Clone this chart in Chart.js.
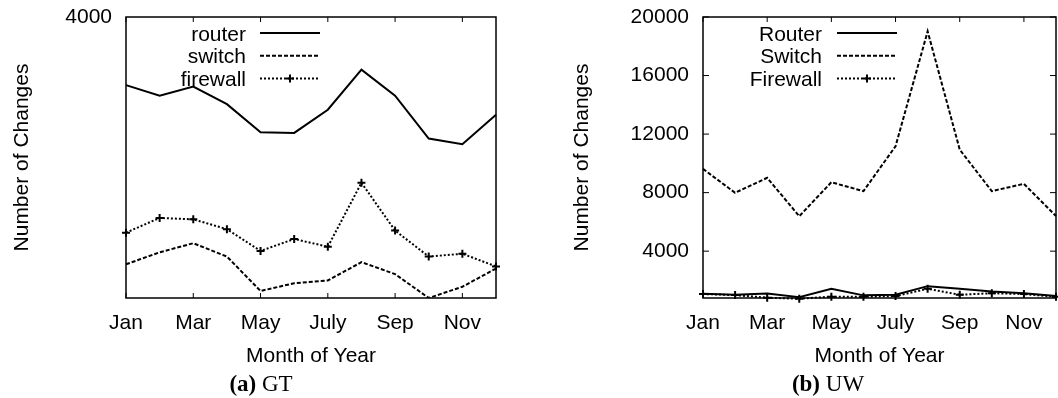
<!DOCTYPE html>
<html>
<head>
<meta charset="utf-8">
<script src="https://cdn.jsdelivr.net/npm/chart.js@4.4.0/dist/chart.umd.min.js"></script>
<style>
  html, body { margin: 0; padding: 0; background: #fff; }
  #wrap { position: relative; width: 1058px; height: 398px; overflow: hidden; }
  canvas { position: absolute; top: 0; }
  #gt { left: 0; }
  #uw { left: 529px; }
  .cap { position: absolute; width: 200px; text-align: center; font: 23px "Liberation Serif", "Times New Roman", serif; line-height: 22px; top: 373px; color: #000; }
  .cap b { font-weight: bold; }
</style>
</head>
<body>
<div id="wrap">
  <canvas id="gt" width="529" height="398"></canvas>
  <canvas id="uw" width="540" height="398"></canvas>
  <div class="cap" style="left:161px"><b>(a)</b> GT</div>
  <div class="cap" style="left:728px"><b>(b)</b> UW</div>
</div>
<script>
// --- data ---
const months = ["Jan", "Feb", "Mar", "Apr", "May", "June", "July", "Aug", "Sep", "Oct", "Nov", "Dec"];

const gtRouter   = [3030, 2880, 3010, 2760, 2360, 2350, 2680, 3250, 2880, 2270, 2190, 2610];
const gtSwitch   = [480, 650, 780, 590, 100, 210, 250, 510, 340, 0, 160, 420];
const gtFirewall = [930, 1140, 1120, 980, 670, 840, 730, 1640, 960, 590, 630, 450];
const gtTicks = [4000];

const uwRouter   = [1090, 1020, 1110, 860, 1430, 980, 1020, 1610, 1430, 1250, 1130, 930];
const uwSwitch   = [9620, 7990, 9010, 6390, 8710, 8100, 11170, 19020, 10940, 8100, 8600, 6400];
const uwFirewall = [1070, 1000, 820, 750, 890, 890, 930, 1430, 1020, 1130, 1070, 890];
const uwTicks = [4000, 8000, 12000, 16000, 20000];

const FONT = '"Liberation Sans", Arial, sans-serif';

// box around plot area + inward tick marks, gnuplot style
const framePlugin = {
  id: 'frame',
  afterDraw(chart, args, opts) {
    const { ctx, chartArea: a, scales: { x, y } } = chart;
    ctx.save();
    ctx.strokeStyle = '#000';
    ctx.lineWidth = 1;
    x.ticks.forEach((t, i) => {
      if (i % 2) return;
      const px = x.getPixelForTick(i);
      ctx.beginPath();
      ctx.moveTo(px, a.bottom); ctx.lineTo(px, a.bottom - 5);
      ctx.moveTo(px, a.top); ctx.lineTo(px, a.top + 5);
      ctx.stroke();
    });
    if (opts.yTicks) {
      y.ticks.forEach((t, i) => {
        const py = y.getPixelForTick(i);
        ctx.beginPath();
        ctx.moveTo(a.left, py); ctx.lineTo(a.left + 6, py);
        ctx.moveTo(a.right, py); ctx.lineTo(a.right - 6, py);
        ctx.stroke();
      });
    }
    ctx.lineWidth = 1.5;
    ctx.strokeRect(a.left, a.top, a.right - a.left, a.bottom - a.top);
    ctx.restore();
  }
};

// key drawn inside the plot: right-aligned names, line sample to the right
const keyPlugin = {
  id: 'key',
  afterDraw(chart, args, opts) {
    const ctx = chart.ctx;
    ctx.save();
    ctx.font = `21px ${FONT}`;
    ctx.fillStyle = '#000';
    ctx.textAlign = 'right';
    ctx.textBaseline = 'alphabetic';
    chart.data.datasets.forEach((ds, i) => {
      const ly = opts.top + i * 22.8;
      ctx.fillText(ds.label, opts.textRight, ly + 7.5);
      ctx.strokeStyle = '#000';
      ctx.lineWidth = ds.borderWidth;
      ctx.setLineDash(ds.borderDash || []);
      ctx.beginPath();
      ctx.moveTo(opts.sampleLeft, ly);
      ctx.lineTo(opts.sampleLeft + 60, ly);
      ctx.stroke();
      if (ds.pointRadius) {
        const cx = opts.sampleLeft + 30;
        ctx.setLineDash([]);
        ctx.lineWidth = ds.pointBorderWidth;
        ctx.beginPath();
        ctx.moveTo(cx - 4, ly); ctx.lineTo(cx + 4, ly);
        ctx.moveTo(cx, ly - 4); ctx.lineTo(cx, ly + 4);
        ctx.stroke();
      }
    });
    ctx.restore();
  }
};

function makeSeries(names, router, sw, fw) {
  return [
    { label: names[0], data: router, borderColor: '#000', borderWidth: 2, pointRadius: 0, tension: 0 },
    { label: names[1], data: sw, borderColor: '#000', borderWidth: 2, borderDash: [4, 2], pointRadius: 0, tension: 0 },
    { label: names[2], data: fw, borderColor: '#000', borderWidth: 2, borderDash: [2, 2],
      pointStyle: 'cross', pointRadius: 4, pointBorderWidth: 2, pointBorderColor: '#000', tension: 0, clip: 6 }
  ];
}

function createChart({ id, datasets, min, max, ticks, padLeft, padRight, yWidth, yTicks, key }) {
  const ctx = document.getElementById(id).getContext('2d');
  new Chart(ctx, {
    type: 'line',
    data: { labels: months, datasets: datasets },
    options: {
      responsive: false,
      animation: false,
      layout: { padding: { left: padLeft, right: padRight, top: 17, bottom: 0 } },
      plugins: {
        legend: { display: false },
        tooltip: { enabled: false },
        frame: { yTicks: yTicks },
        key: key
      },
      scales: {
        x: {
          type: 'category',
          offset: false,
          grid: { display: false, drawTicks: false },
          border: { display: false },
          afterFit: s => { s.height = 100; },
          ticks: {
            autoSkip: false, maxRotation: 0, padding: 13, color: '#000',
            font: { family: FONT, size: 21 },
            callback: (v, i) => (i % 2 === 0 && i < 11 ? months[i] : '')
          },
          title: { display: true, text: 'Month of Year', color: '#000', font: { family: FONT, size: 21 }, padding: { top: 0, bottom: 29 } }
        },
        y: {
          min: min, max: max,
          grid: { display: false, drawTicks: false },
          border: { display: false },
          afterFit: s => { s.width = yWidth; s.paddingTop = 0; s.paddingBottom = 0; },
          afterBuildTicks: s => { s.ticks = ticks.map(v => ({ value: v })); },
          ticks: { padding: 14, color: '#000', font: { family: FONT, size: 21 }, callback: v => String(v) },
          title: { display: true, text: 'Number of Changes', color: '#000', font: { family: FONT, size: 21 }, padding: { top: 10, bottom: 0 } }
        }
      }
    },
    plugins: [framePlugin, keyPlugin]
  });
}

createChart({
  id: 'gt',
  datasets: makeSeries(['router', 'switch', 'firewall'], gtRouter, gtSwitch, gtFirewall),
  min: 0, max: 4000, ticks: gtTicks,
  padLeft: 0, padRight: 33, yWidth: 126, yTicks: false,
  key: { top: 33, textRight: 246, sampleLeft: 260 }
});

createChart({
  id: 'uw',
  datasets: makeSeries(['Router', 'Switch', 'Firewall'], uwRouter, uwSwitch, uwFirewall),
  min: 800, max: 20000, ticks: uwTicks,
  padLeft: 31, padRight: 8, yWidth: 143, yTicks: true,
  key: { top: 33, textRight: 293, sampleLeft: 308 }
});
</script>
</body>
</html>
